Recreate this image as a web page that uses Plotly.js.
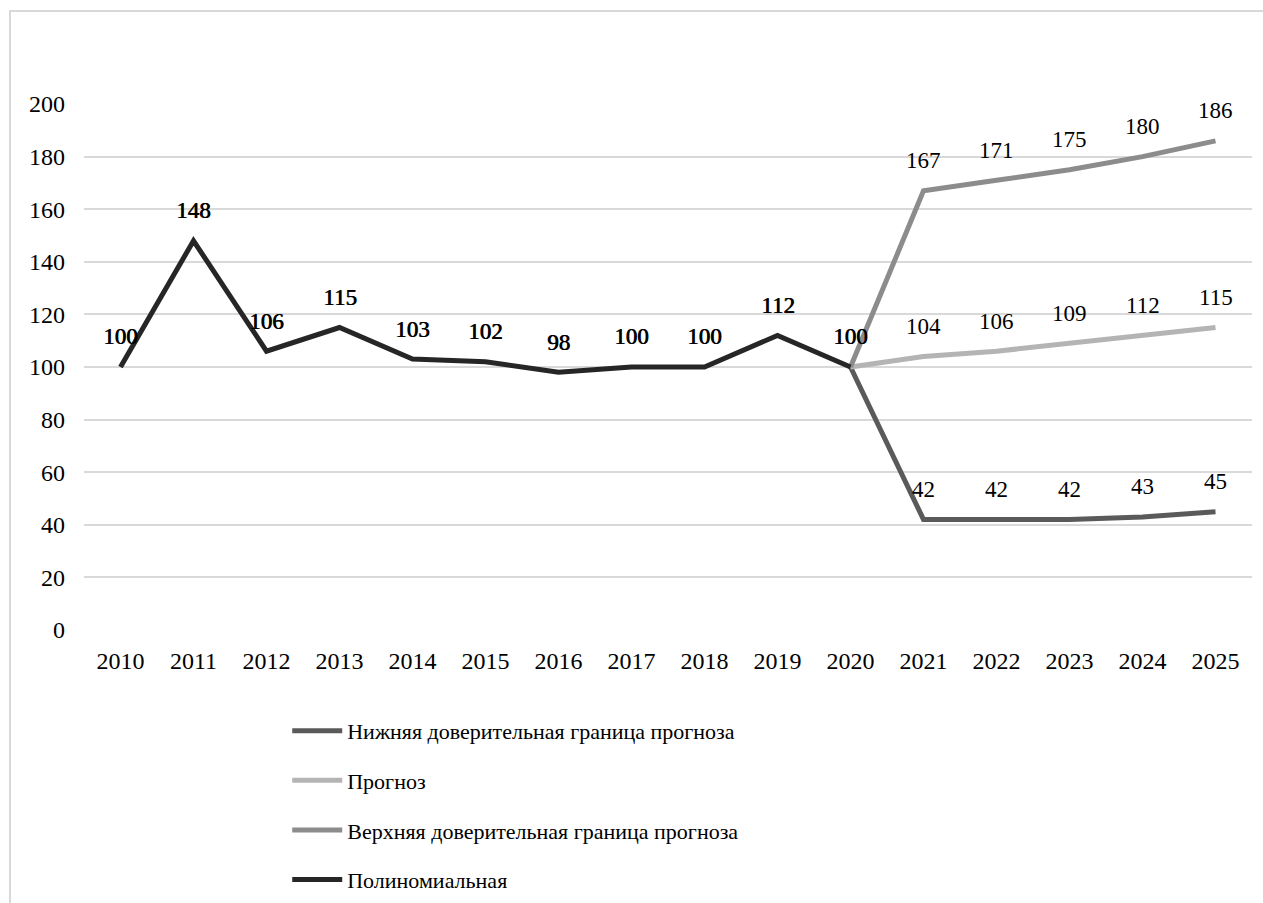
<!DOCTYPE html>
<html>
<head>
<meta charset="utf-8">
<script src="https://cdn.plot.ly/plotly-3.0.1.min.js"></script>
<style>
html,body{margin:0;padding:0;overflow:hidden;background:#fff;}
#frame{position:absolute;left:9px;top:10px;width:1400px;height:1000px;border:2px solid #d9d9d9;box-sizing:border-box;pointer-events:none;z-index:5;}
#chart{position:absolute;left:0;top:0;width:1263px;height:903px;}
</style>
</head>
<body>
<div id="chart"></div>
<div id="frame"></div>
<script>
const years = ['2010','2011','2012','2013','2014','2015','2016','2017','2018','2019','2020','2021','2022','2023','2024','2025'];
const polynomial = [100,148,106,115,103,102,98,100,100,112,100,null,null,null,null,null];
const lowerBound = [null,null,null,null,null,null,null,null,null,null,100,42,42,42,43,45];
const forecast   = [null,null,null,null,null,null,null,null,null,null,100,104,106,109,112,115];
const upperBound = [null,null,null,null,null,null,null,null,null,null,100,167,171,175,180,186];
const names = ['Нижняя доверительная граница прогноза','Прогноз','Верхняя доверительная граница прогноза','Полиномиальная'];
const colors = ['#5a5a5a','#b4b4b4','#8c8c8c','#262626'];
const yTicks = [0,20,40,60,80,100,120,140,160,180,200];

const seriesList = [lowerBound, forecast, upperBound, polynomial];
const FONT = 'Liberation Serif';

const traces = seriesList.map((s,i)=>({
  x: years, y: s, type:'scatter', mode:'lines', name: names[i],
  line:{color: colors[i], width:5},
  legendgroup:'g'+i, connectgaps:false, hoverinfo:'skip'
}));

const annotations = [];
[lowerBound, forecast, upperBound].forEach(s=>{
  s.forEach((v,j)=>{
    if(v!==null && j>10){
      annotations.push({x: j, y: v, xref:'x', yref:'y', text: String(v), showarrow:false,
        yshift: 30, font:{family:FONT, size:23, color:'#000'}});
    }
  });
});
polynomial.forEach((v,j)=>{
  if(v!==null){
    annotations.push({x: j, y: v, xref:'x', yref:'y', text: String(v), showarrow:false,
      yshift: 30, font:{family:FONT, size:23, color:'#000', shadow:'0.8px 0px 0px #000'}});
  }
});

const layout = {
  width:1263, height:903,
  margin:{l:84, r:11, t:104, b:0},
  paper_bgcolor:'#fff', plot_bgcolor:'#fff',
  font:{family:FONT, size:24, color:'#000'},
  showlegend:true,
  legend:{x:0.174, xanchor:'left', y:0.2416, yanchor:'top', orientation:'v', itemwidth:50,
    font:{family:FONT, size:22, color:'#000'}, tracegroupgap:18, bgcolor:'rgba(0,0,0,0)'},
  xaxis:{type:'category', categoryorder:'array', categoryarray: years, range:[-0.5, years.length-0.5], autorange:false,
    showgrid:false, zeroline:false, showline:false, tickangle:0,
    ticks:'', tickfont:{family:FONT, size:24, color:'#000'}, ticklabelstandoff:14, fixedrange:true},
  yaxis:{domain:[0.3417,1], range:[0,200], autorange:false, tickvals: yTicks, ticktext: yTicks.map(String), showgrid:true, gridcolor:'#d9d9d9', gridwidth:2,
    zeroline:false, showline:false, ticks:'', tickfont:{family:FONT, size:24, color:'#000'}, ticklabelstandoff:18, fixedrange:true},
  annotations: annotations
};
Plotly.newPlot('chart', traces, layout, {displayModeBar:false, staticPlot:true});
</script>
</body>
</html>
